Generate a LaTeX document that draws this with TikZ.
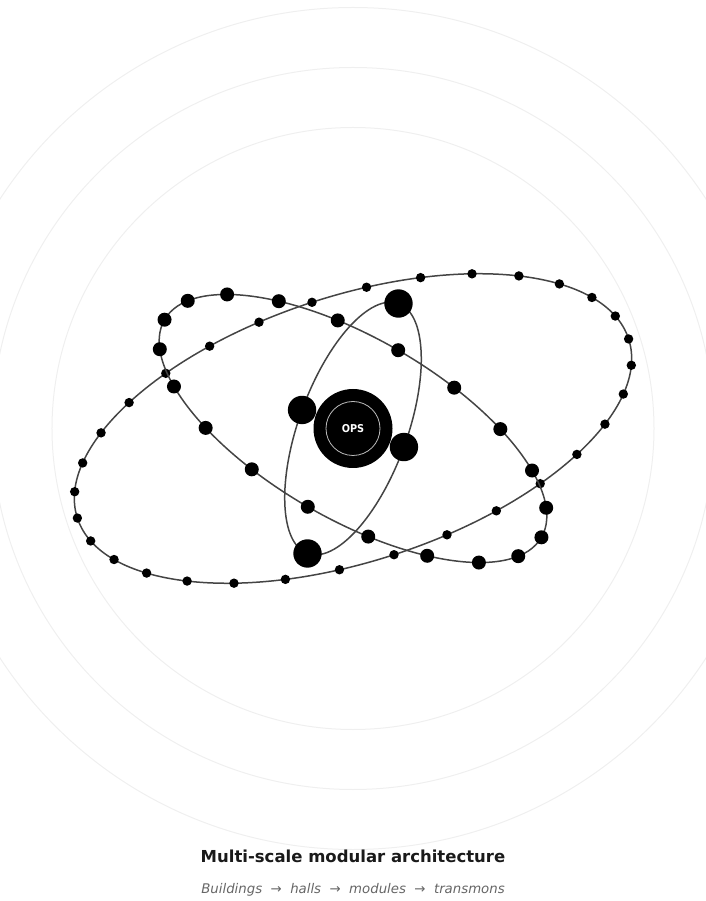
\documentclass[tikz,border=0pt]{standalone}
\usepackage{fontspec}
\setmainfont{DejaVu Sans}
\newfontfamily\opsfont{DejaVu Sans Condensed}
\usetikzlibrary{positioning}
\definecolor{orbitline}{HTML}{444444}
\definecolor{ringgray}{HTML}{EFEFEF}
\definecolor{opsring}{HTML}{BBBBBB}
\definecolor{titleink}{HTML}{1A1A1A}
\definecolor{subink}{HTML}{666666}

\begin{document}
\begin{tikzpicture}[x=1pt, y=1pt,
    orbit/.style={draw=orbitline, line width=1.5pt},
    scalering/.style={draw=ringgray, line width=1pt},
    qdot/.style={circle, fill=black, inner sep=0pt, minimum size=#1}]
  \useasboundingbox (-353,-472.5) rectangle (352,428.5);
  % faint scale rings
  \foreach \r in {301,361,421}
    \draw[scalering] (0,0) circle[radius=\r];
  % buildings orbit
  \begin{scope}[rotate=18]
    \draw[orbit] (0,0) ellipse[x radius=289.8, y radius=132.7];
    \foreach \i in {0,...,31}
      \node[qdot=9.4pt] (bld\i) at ({289.8*cos(\i*11.25)}, {132.7*sin(\i*11.25)}) {};
  \end{scope}
  % halls orbit
  \begin{scope}[rotate=-30]
    \draw[orbit] (0,0) ellipse[x radius=217.6, y radius=90.4];
    \foreach \i in {0,...,19}
      \node[qdot=14pt] (hall\i) at ({217.6*cos(\i*18)}, {90.4*sin(\i*18)}) {};
  \end{scope}
  % modules orbit
  \begin{scope}[rotate=70]
    \draw[orbit] (0,0) ellipse[x radius=133, y radius=54.2];
    \foreach \i in {0,...,3}
      \node[qdot=28.4pt] (mod\i) at ({133*cos(\i*90)}, {54.2*sin(\i*90)}) {};
  \end{scope}
  % core
  \node[circle, fill=black, inner sep=0pt, minimum size=79pt] (ops) at (0,0) {};
  \draw[draw=opsring, line width=0.8pt] (ops.center) circle[radius=27];
  \node[text=white, font=\opsfont\bfseries\fontsize{10.8}{13}\selectfont] (opslabel) at (ops.center) {OPS};
  % caption
  \node[anchor=base, text=titleink, font=\bfseries\fontsize{16.5}{20}\selectfont] (title) at (0,-433.8) {Multi-scale modular architecture};
  \node[anchor=base, text=subink, font=\itshape\fontsize{13.3}{16}\selectfont] (subtitle) at (0,-464.5) {Buildings~~→~~halls~~→~~modules~~→~~transmons};
\end{tikzpicture}
\end{document}
